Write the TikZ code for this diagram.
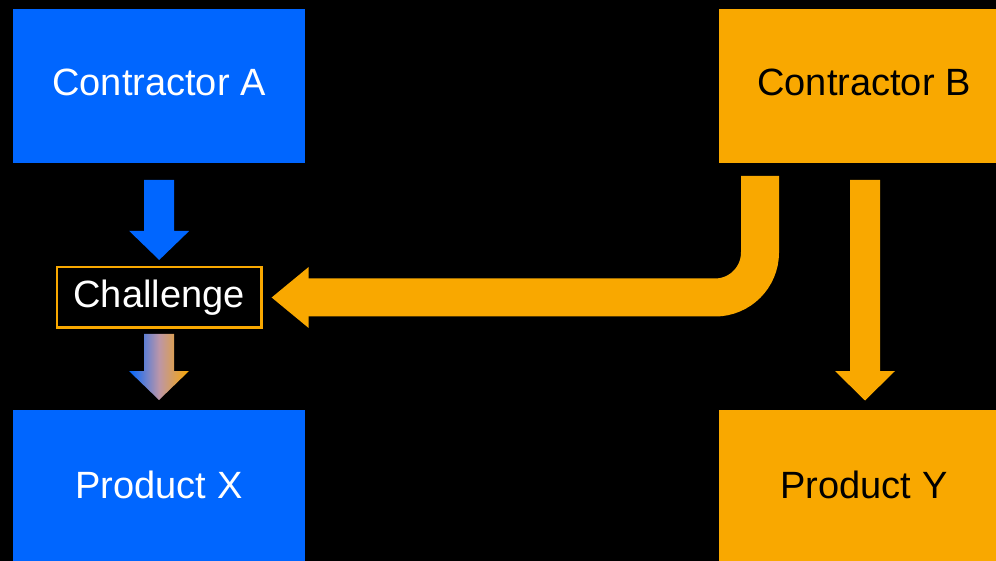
\documentclass[tikz,border=0pt]{standalone}
\usepackage{fontspec}
\setmainfont{Liberation Sans}
\usetikzlibrary{calc}
\definecolor{kblue}{RGB}{0,102,255}
\definecolor{korange}{RGB}{249,168,0}
\definecolor{kmauve}{RGB}{188,150,168}
\begin{document}
\begin{tikzpicture}[x=1pt,y=-1pt,
  bigbox/.style={minimum width=292pt, minimum height=154pt, inner sep=0pt, outer sep=0pt, draw=none},
  lbl/.style={anchor=base, font=\fontsize{38}{44}\selectfont, inner sep=0pt, outer sep=0pt},
  chbox/.style={draw=korange, line width=2.5pt, fill=black, minimum width=204.5pt, minimum height=60.5pt, inner sep=0pt, outer sep=0pt}]
\useasboundingbox (0,0) rectangle (996,561);
\fill[black] (0,0) rectangle (996,561);
\clip (0,0) rectangle (996,561);
% boxes
\node[bigbox, fill=kblue] (ca) at (159,86) {};
\node[bigbox, fill=korange] (cb) at (865,86) {};
\node[bigbox, fill=kblue] (px) at (159,487) {};
\node[bigbox, fill=korange] (py) at (865,487) {};
\node[chbox] (ch) at (159.2,297.2) {};
% labels
\node[lbl, text=white] (ta) at (159,96) {Contractor A};
\node[lbl, text=black] (tb) at (864,96) {Contractor B};
\node[lbl, text=white] (tx) at (159,498) {Product X};
\node[lbl, text=black] (ty) at (864,498) {Product Y};
\node[lbl, text=white] (tc) at (159,308) {Challenge};
% connector end points
\coordinate (a1) at ($(ca.south)+(0,17)$);
\coordinate (a2) at ($(ch.north)+(0,-7)$);
\coordinate (g1) at ($(ch.south)+(0,6.5)$);
\coordinate (g2) at ($(px.north)+(0,-10)$);
\coordinate (o1) at ($(cb.south)+(0,17)$);
\coordinate (o2) at ($(py.north)+(0,-9.5)$);
\coordinate (c1) at ($(cb.south)+(-105,13)$);
\coordinate (c2) at ($(ch.east)+(10.2,0.3)$);
% blue arrow: Contractor A -> Challenge
\fill[kblue] ($(a1)+(-15,0)$) -- ($(a1)+(15,0)$) -- ($(a2)+(15,-29)$) -- ($(a2)+(30,-29)$)
  -- (a2) -- ($(a2)+(-30,-29)$) -- ($(a2)+(-15,-29)$) -- cycle;
% gradient arrow: Challenge -> Product X
\shade[left color=kblue, right color=korange, middle color=kmauve]
  ($(g1)+(-15,0)$) -- ($(g1)+(15,0)$) -- ($(g2)+(15,-29)$) -- ($(g2)+(30,-29)$)
  -- (g2) -- ($(g2)+(-30,-29)$) -- ($(g2)+(-15,-29)$) -- cycle;
% orange arrow: Contractor B -> Product Y
\fill[korange] ($(o1)+(-15,0)$) -- ($(o1)+(15,0)$) -- ($(o2)+(15,-29.5)$) -- ($(o2)+(30,-29.5)$)
  -- (o2) -- ($(o2)+(-30,-29.5)$) -- ($(o2)+(-15,-29.5)$) -- cycle;
% curved orange arrow: Contractor B -> Challenge
\draw[korange, line width=38pt, rounded corners=45pt] (c1) |- ($(c2)+(35,0)$);
\fill[korange] (c2) -- ($(c2)+(37,-30.5)$) -- ($(c2)+(37,30.5)$) -- cycle;
\end{tikzpicture}
\end{document}
